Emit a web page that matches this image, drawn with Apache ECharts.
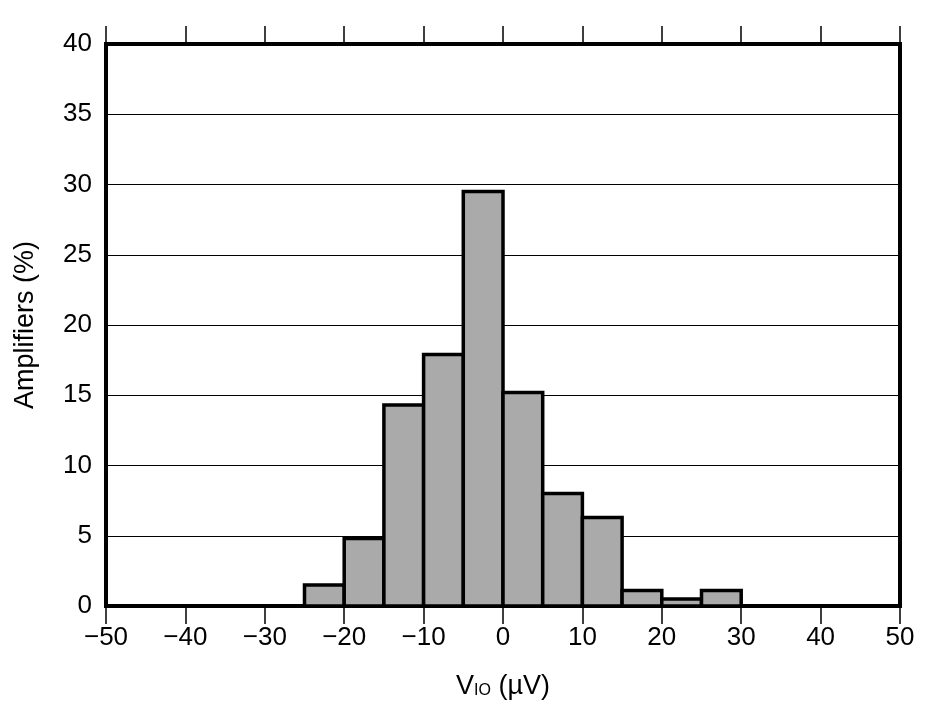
<!DOCTYPE html>
<html><head><meta charset="utf-8">
<script src="https://cdn.jsdelivr.net/npm/echarts@6/dist/echarts.min.js"></script>
<style>html,body{margin:0;padding:0;background:#fff}#c{width:928px;height:716px}</style>
</head><body><div id="c"></div>
<script>
const binStarts = [-25, -20, -15, -10, -5, 0, 5, 10, 15, 20, 25];
const binWidth = 5;
const percents = [1.5, 4.8, 14.3, 17.9, 29.5, 15.2, 8.0, 6.3, 1.1, 0.5, 1.1];
const xRange = [-50, 50];
const xStep = 10;
const yRange = [0, 40];
const yStep = 5;

const FONT = 'Liberation Sans, Arial, sans-serif';
const data = binStarts.map((s, i) => [s, s + binWidth, percents[i]]);
const fmt = v => v < 0 ? '\u2212' + Math.abs(v) : String(v);

const chart = echarts.init(document.getElementById('c'), null, {renderer: 'canvas'});
chart.setOption({
  animation: false,
  backgroundColor: '#fff',
  grid: {left: 106, right: 28, top: 44, bottom: 110, show: true, borderColor: '#000', borderWidth: 4, backgroundColor: 'transparent'},
  xAxis: [{
    type: 'value', min: xRange[0], max: xRange[1], interval: xStep, position: 'bottom',
    axisLine: {show: false},
    axisTick: {show: true, inside: false, length: 18, lineStyle: {color: '#000', width: 1.5}},
    axisLabel: {margin: 19, color: '#000', fontSize: 26, fontFamily: FONT, formatter: fmt},
    splitLine: {show: false},
    name: '{a|V}{b|IO}{a| (µV)}', nameLocation: 'middle', nameGap: 66,
    nameTextStyle: {rich: {
      a: {fontSize: 27, fontFamily: FONT, color: '#000', lineHeight: 30},
      b: {fontSize: 16, fontFamily: FONT, color: '#000', lineHeight: 16, verticalAlign: 'bottom', padding: [0, 0, 3, 0]}
    }}
  }, {
    type: 'value', min: xRange[0], max: xRange[1], interval: xStep, position: 'top',
    axisLine: {show: false},
    axisTick: {show: true, inside: false, length: 18, lineStyle: {color: '#000', width: 1.5}},
    axisLabel: {show: false},
    splitLine: {show: false}
  }],
  yAxis: {
    type: 'value', min: yRange[0], max: yRange[1], interval: yStep,
    axisLine: {show: false}, axisTick: {show: false},
    axisLabel: {margin: 14, color: '#000', fontSize: 26, fontFamily: FONT},
    splitLine: {show: true, lineStyle: {color: '#000', width: 1}},
    name: 'Amplifiers (%)', nameLocation: 'middle', nameGap: 67,
    nameTextStyle: {fontSize: 27, fontFamily: FONT, color: '#000'}
  },
  series: [{
    type: 'custom', xAxisIndex: 0, yAxisIndex: 0, data: data,
    encode: {x: [0, 1], y: 2},
    renderItem: function (params, api) {
      const p0 = api.coord([api.value(0), api.value(2)]);
      const p1 = api.coord([api.value(1), 0]);
      return {type: 'rect', shape: {x: p0[0], y: p0[1], width: p1[0] - p0[0], height: p1[1] - p0[1]},
        style: {fill: '#aaaaaa', stroke: '#000', lineWidth: 3.5}};
    }
  }]
});
</script></body></html>
